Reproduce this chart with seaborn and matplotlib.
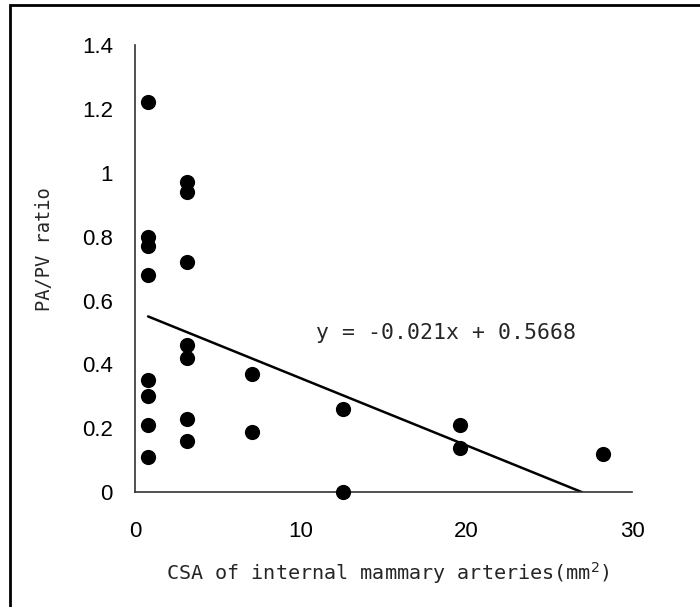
import numpy as np
import pandas as pd
import matplotlib
matplotlib.use('Agg')
import matplotlib.pyplot as plt
import seaborn as sns

# CSA (mm^2) of each measured artery and the PA/PV ratio
csa = [0.785] * 8 + [3.14] * 7 + [7.07] * 2 + [12.57] * 2 + [19.63] * 2 + [28.27]
ratio = [1.22, 0.80, 0.77, 0.68, 0.35, 0.30, 0.21, 0.11,
         0.97, 0.94, 0.72, 0.46, 0.42, 0.23, 0.16,
         0.37, 0.19,
         0.26, 0.00,
         0.21, 0.14,
         0.12]

# trend line
slope = -0.021
intercept = 0.5668
line_x = [0.785, -intercept / slope]

df = pd.DataFrame({'csa': csa, 'ratio': ratio})
trend = pd.DataFrame({'x': line_x})
trend['y'] = slope * trend['x'] + intercept

sns.set_style('white')
plt.rcParams['font.family'] = ['Liberation Sans', 'DejaVu Sans']
mono = ['DejaVu Sans Mono', 'Liberation Mono']

fig = plt.figure(figsize=(7, 6.07), dpi=100)
ax = fig.add_axes([0.193, 0.189, 0.710, 0.737])

sns.lineplot(data=trend, x='x', y='y', color='black', linewidth=1.8, ax=ax)
sns.scatterplot(data=df, x='csa', y='ratio', color='black', s=120,
                edgecolor='black', linewidth=0, ax=ax, zorder=3, clip_on=False)

ax.set_xlim(0, 30)
ax.set_ylim(0, 1.4)
ax.set_xticks([0, 10, 20, 30])
ax.set_yticks([0, 0.2, 0.4, 0.6, 0.8, 1.0, 1.2, 1.4])
ax.set_yticklabels(['0', '0.2', '0.4', '0.6', '0.8', '1', '1.2', '1.4'])
ax.tick_params(direction='in', length=7, width=1, labelsize=16, colors='black')
ax.tick_params(axis='x', pad=21)
ax.tick_params(axis='y', pad=16)
for side in ['top', 'right']:
    ax.spines[side].set_visible(False)
for side in ['left', 'bottom']:
    ax.spines[side].set_color('#333333')
    ax.spines[side].set_linewidth(1.2)

ax.set_xlabel('CSA of internal mammary arteries(mm$^2$)', fontsize=14.5, family=mono)
ax.xaxis.set_label_coords(0.509, -0.152)
ax.set_ylabel('PA/PV ratio', fontsize=13.5, family=mono)
ax.yaxis.set_label_coords(-0.163, 0.544)

ax.text(10.9, 0.50, 'y = -0.021x + 0.5668', fontsize=15.5, va='center', ha='left',
        family=mono)

# figure border
fig.patches.append(plt.Rectangle((10 / 700, -0.05), 1.2, 1 - 5 / 607 + 0.05,
                                 transform=fig.transFigure, fill=False,
                                 edgecolor='black', linewidth=2))

fig.savefig('out.png', dpi=100)
